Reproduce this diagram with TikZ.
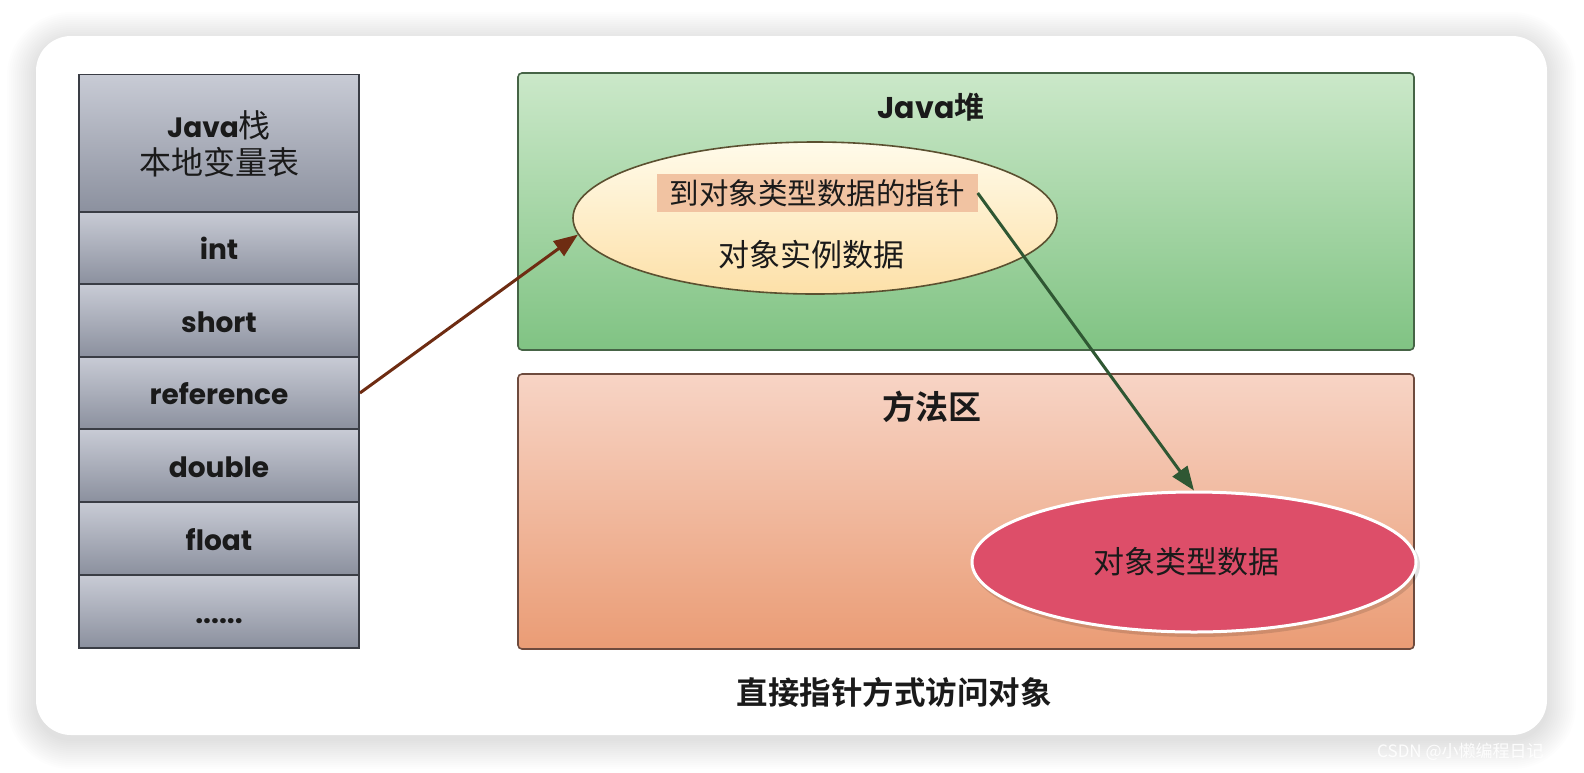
\documentclass[tikz,border=0pt]{standalone}
\usepackage{fontspec}
\newfontfamily\cjk{Noto Sans CJK SC}[BoldFont={Noto Sans CJK SC Bold}]
\newfontfamily\geo{Poppins}[BoldFont={Poppins Bold}]
\usetikzlibrary{shapes.geometric,arrows.meta}
\definecolor{cellborder}{HTML}{3A3D45}
\definecolor{celltop}{HTML}{C8CBD5}
\definecolor{cellbot}{HTML}{8B909E}
\definecolor{heaptop}{HTML}{CBE8C9}
\definecolor{heapbot}{HTML}{80C383}
\definecolor{heapborder}{HTML}{466446}
\definecolor{methtop}{HTML}{F7D4C5}
\definecolor{methbot}{HTML}{EA9C75}
\definecolor{methborder}{HTML}{6E4B3E}
\definecolor{objtop}{HTML}{FFFBEA}
\definecolor{objbot}{HTML}{FDE0A8}
\definecolor{objborder}{HTML}{5B5030}
\definecolor{ptrfill}{HTML}{F1C3A2}
\definecolor{clsfill}{HTML}{DD4E69}
\definecolor{arrowbrown}{HTML}{6E2C12}
\definecolor{arrowgreen}{HTML}{2F5733}
\definecolor{txt}{HTML}{1A1A1A}
\tikzset{
  cell/.style={draw=cellborder, line width=1.8pt, top color=celltop, bottom color=cellbot,
    minimum width=280, minimum height=72.5, inner sep=0, text=txt,
    font=\geo\bfseries\fontsize{28}{32}\selectfont, text height=26pt, text depth=3pt},
  area/.style={line width=1.6pt, rounded corners=4pt, minimum width=896, inner sep=0},
  title/.style={font=\cjk\bfseries\fontsize{30}{34}\selectfont, text=txt, inner sep=0},
  cjktext/.style={font=\cjk\fontsize{31}{36}\selectfont, text=txt, inner sep=0},
  arrowline/.style={line width=3pt, -{Triangle[length=24pt,width=18pt]}, shorten >=0pt},
}
\begin{document}
\begin{tikzpicture}[x=1pt,y=-1pt]
\useasboundingbox (0,0) rectangle (1584,772);
\fill[white] (0,0) rectangle (1584,772);
% card shadow
\foreach \d in {1,3,...,29}{
  \pgfmathsetmacro\rr{35+\d}
  \fill[black,opacity=0.009,rounded corners=\rr pt] (36-\d,36-\d+5) rectangle (1547+\d,735+\d+5);
}
\fill[white,rounded corners=35pt] (36,36) rectangle (1547,735);

% Java stack
\node[cell, minimum height=139, align=center, font=\fontsize{32}{36}\selectfont, text height=, text depth=] (hdr) at (219,144)
  {{\geo\bfseries\fontsize{28}{32}\selectfont Java}{\cjk 栈}\\[1pt]{\cjk 本地变量表}};
\node[cell] (int)   at (219,248)   {int};
\node[cell] (short) at (219,320.5) {short};
\node[cell] (ref)   at (219,393)   {reference};
\node[cell] (dbl)   at (219,465.5) {double};
\node[cell] (flt)   at (219,538.5) {float};
\node[cell] (more)  at (219,611.5) {......};

% areas
\node[area, draw=heapborder, top color=heaptop, bottom color=heapbot, minimum height=277] (heap) at (966,211.5) {};
\node[area, draw=methborder, top color=methtop, bottom color=methbot, minimum height=275] (meth) at (966,511.5) {};
\node[title] (heapt) at (931,107) {{\geo\bfseries Java}堆};
\node[title, font=\cjk\bfseries\fontsize{33}{36}\selectfont] (metht) at (932,407) {方法区};

% object instance ellipse
\node[ellipse, draw=objborder, line width=1.6pt, top color=objtop, bottom color=objbot,
  minimum width=484, minimum height=152, inner sep=0] (obj) at (815,218) {};
\node[cjktext, fill=ptrfill, minimum width=321, minimum height=38, font=\cjk\fontsize{29.5}{34}\selectfont] (ptr) at (817,193) {到对象类型数据的指针};
\node[cjktext] (inst) at (811,255) {对象实例数据};

% class data ellipse
\node[ellipse, fill=black, opacity=0.12, minimum width=448, minimum height=144, inner sep=0] (clssh) at (1196,565) {};
\node[ellipse, draw=white, line width=3pt, fill=clsfill,
  minimum width=444, minimum height=140, inner sep=0] (cls) at (1194,562) {};
\node[cjktext] (clst) at (1186,562) {对象类型数据};

% arrows
\draw[arrowline, draw=arrowbrown, fill=arrowbrown] (ref.east) -- (obj.184);
\draw[arrowline, draw=arrowgreen, fill=arrowgreen] (ptr.east) -- (cls.north);

% caption
\node[title, font=\cjk\bfseries\fontsize{31.5}{36}\selectfont] (cap) at (894,692) {直接指针方式访问对象};

% watermark
\node[anchor=west, inner sep=0, text=white, opacity=0.9, font=\cjk\fontsize{17}{20}\selectfont] (wm) at (1377,752) {CSDN @小懒编程日记};
\end{tikzpicture}
\end{document}
